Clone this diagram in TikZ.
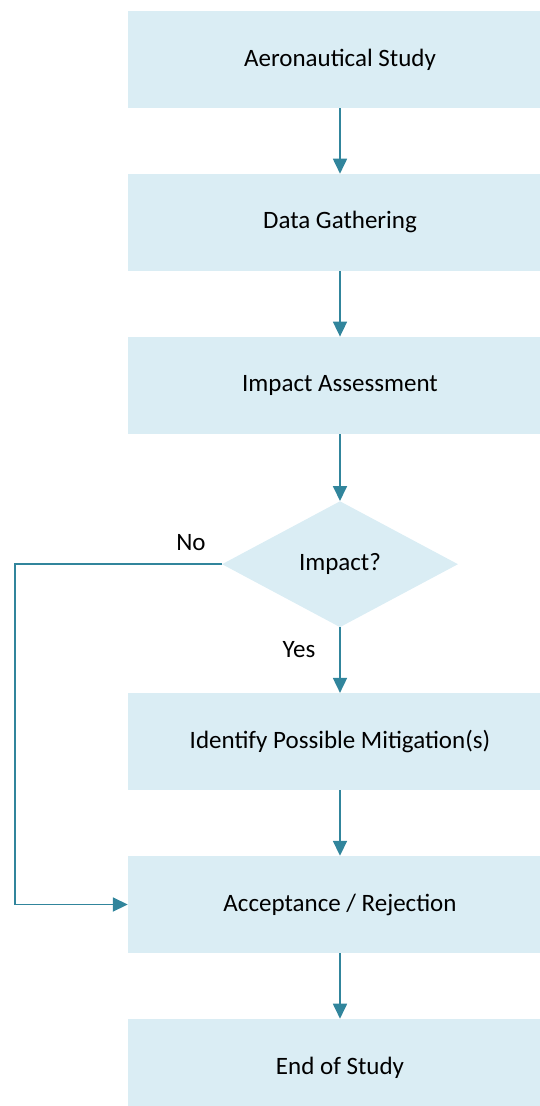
\documentclass[tikz,border=0pt]{standalone}
\usepackage{fontspec}
\setmainfont{Carlito}
\usepackage{xcolor}
\usetikzlibrary{arrows.meta}
\usetikzlibrary{shapes.geometric}
\usetikzlibrary{positioning}

\definecolor{boxfill}{HTML}{DAEDF4}
\definecolor{flowline}{HTML}{31859C}

\tikzset{
  stepbox/.style={rectangle, fill=boxfill, minimum width=424pt, minimum height=97pt,
    inner sep=0pt, font=\fontsize{25}{30}\selectfont},
  decision/.style={diamond, fill=boxfill, minimum width=236pt, minimum height=126pt,
    inner sep=0pt, font=\fontsize{25}{30}\selectfont},
  flow/.style={draw=flowline, line width=1.8pt, -{Triangle[length=15pt,width=14pt]}},
  lbl/.style={font=\fontsize{25}{30}\selectfont, inner sep=0pt}
}

\begin{document}
\begin{tikzpicture}[x=1pt, y=1pt, node distance=65.5pt]
  \clip (0,0) rectangle (540,-1106);
  \useasboundingbox (0,0) rectangle (540,-1106);

  % Steps
  \node[stepbox]                    (study)    at (340,-59.5) {Aeronautical Study};
  \node[stepbox, below=of study]    (data)     {Data Gathering};
  \node[stepbox, below=of data]     (assess)   {Impact Assessment};
  \node[decision, below=67pt of assess] (impact) {Impact?};
  \node[stepbox, below=of impact]   (mitigate) {Identify Possible Mitigation(s)};
  \node[stepbox, below=of mitigate] (accept)   {Acceptance / Rejection};
  \node[stepbox, below=of accept]   (finish)   {End of Study};

  % Labels
  \node[lbl] (no)  at (191,-543) {No};
  \node[lbl] (yes) at (299,-650) {Yes};

  % Connectors
  \draw[flow] (study)    -- (data);
  \draw[flow] (data)     -- (assess);
  \draw[flow] (assess)   -- (impact);
  \draw[flow] (impact)   -- (mitigate);
  \draw[flow] (mitigate) -- (accept);
  \draw[flow] (accept)   -- (finish);
  \coordinate (bend) at (15,0);
  \draw[flow] (impact.west) -| (bend |- accept.west) -- (accept.west);
\end{tikzpicture}
\end{document}
